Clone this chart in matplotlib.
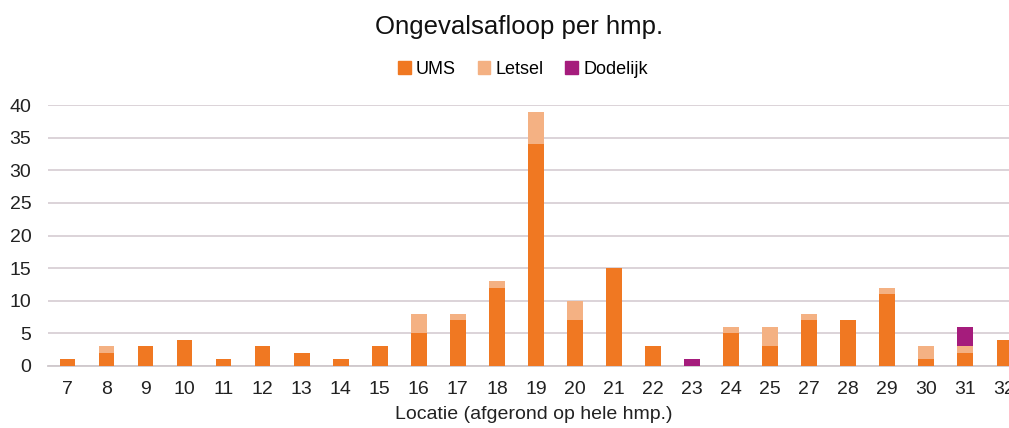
import numpy as np
import matplotlib.pyplot as plt
from matplotlib.patches import Patch

plt.rcParams['font.family'] = ['Liberation Sans', 'DejaVu Sans']

# Data
locaties = ['7', '8', '9', '10', '11', '12', '13', '14', '15', '16', '17', '18', '19',
            '20', '21', '22', '23', '24', '25', '27', '28', '29', '30', '31', '32']
ums = [1, 2, 3, 4, 1, 3, 2, 1, 3, 5, 7, 12, 34, 7, 15, 3, 0, 5, 3, 7, 7, 11, 1, 2, 4]
letsel = [0, 1, 0, 0, 0, 0, 0, 0, 0, 3, 1, 1, 5, 3, 0, 0, 0, 1, 3, 1, 0, 1, 2, 1, 0]
dodelijk = [0, 0, 0, 0, 0, 0, 0, 0, 0, 0, 0, 0, 0, 0, 0, 0, 1, 0, 0, 0, 0, 0, 0, 3, 0]

c_ums = '#F07822'
c_letsel = '#F4B183'
c_dood = '#A51C7C'

fig = plt.figure(figsize=(10.09, 4.28), dpi=100)
ax = fig.add_axes([48/1009, 62/428, 1 - 48/1009, 261/428])

x = np.arange(len(locaties))
w = 0.4
ums = np.array(ums)
letsel = np.array(letsel)
dodelijk = np.array(dodelijk)
ax.bar(x, ums, w, color=c_ums, zorder=3)
ax.bar(x, letsel, w, bottom=ums, color=c_letsel, zorder=3)
ax.bar(x, dodelijk, w, bottom=ums + letsel, color=c_dood, zorder=3)

ax.set_xlim(-0.5, 24.12)
ax.set_ylim(0, 40)
ax.set_yticks(range(0, 41, 5))
ax.set_xticks(x)
ax.set_xticklabels(locaties)
ax.yaxis.grid(True, color='#D9D0D6', linewidth=1.3, zorder=0)
for s in ['top', 'right', 'left']:
    ax.spines[s].set_visible(False)
ax.spines['bottom'].set_color('#CFC8CC')
ax.spines['bottom'].set_linewidth(1.3)
ax.tick_params(axis='both', length=0, labelsize=14, colors='#222222')
ax.tick_params(axis='x', pad=11)
ax.tick_params(axis='y', pad=12)
ax.set_xlabel('Locatie (afgerond op hele hmp.)', fontsize=14, color='#222222', labelpad=4.5)
ax.xaxis.set_label_coords(0.505, -0.155)

fig.text(519/1009, 1 - 34/428, 'Ongevalsafloop per hmp.', ha='center', va='baseline',
         fontsize=18.5, color='#111111')

handles = [Patch(color=c_ums, label='UMS'), Patch(color=c_letsel, label='Letsel'),
           Patch(color=c_dood, label='Dodelijk')]
fig.legend(handles=handles, loc='center', bbox_to_anchor=(523/1009, 1 - 69/428), ncol=3,
           frameon=False, fontsize=13, handlelength=0.7, handleheight=0.7,
           handletextpad=0.3, columnspacing=1.2)

fig.savefig('out.png', dpi=100)
